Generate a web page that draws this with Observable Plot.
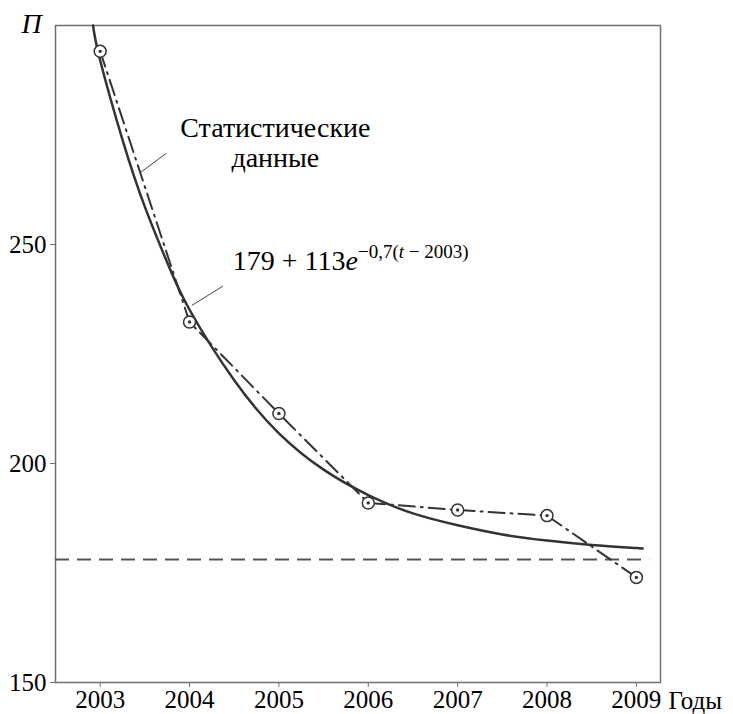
<!DOCTYPE html>
<html><head><meta charset="utf-8">
<script src="https://cdn.jsdelivr.net/npm/d3@7"></script>
<script src="https://cdn.jsdelivr.net/npm/@observablehq/plot@0.6"></script>
<style>body{margin:0}</style>
</head><body><div id="chart"></div>
<script>
// Statistical data
const years = [2003, 2004, 2005, 2006, 2007, 2008, 2009];
const statValues = [294.1, 232.3, 211.4, 191.0, 189.4, 188.1, 174.0];
// Fitted curve, points
const fitT = [2002.92, 2003, 2003.25, 2003.5, 2003.75, 2004, 2004.5, 2005, 2005.5, 2006, 2006.5, 2007, 2007.5, 2008, 2008.5, 2009, 2009.05];
const fitValues = [300, 292, 273.9, 258.6, 245.9, 235.1, 219, 206.9, 198.6, 192.8, 188.6, 185.9, 183.8, 182.4, 181.4, 180.7, 180.6];
// Asymptote
const asymptote = 178.1;
// Axes
const xTicks = [2003, 2004, 2005, 2006, 2007, 2008, 2009];
const yTicks = [150, 200, 250];
const xDomain = [2002.5, 2009.27];
const yDomain = [150, 300];
const yLabel = "П";
const xLabel = "Годы";
// Annotations
const statLabel = "Статистические\nданные";
const statLabelAt = [2004.96, 273.4];
const statLeader = [2003.448, 266.4, 2003.739, 270.8];
const formulaMain = "179 + 113";
const formulaE = "e";
const formulaSup1 = "−0,7(";
const formulaSupT = "t";
const formulaSup2 = " − 2003)";
const formulaAt = [2004.49, 244.1];
const formulaLeader = [2004.026, 236.1, 2004.374, 240.5];

const stat = years.map((t, i) => ({t, v: statValues[i]}));
const fit = fitT.map((t, i) => ({t, v: fitValues[i]}));
const leaders = [statLeader, formulaLeader].map(([x1, y1, x2, y2]) => ({x1, y1, x2, y2}));

const INK = "#333";
const GRAY = "#707070";

const plot = Plot.plot({
  width: 733, height: 714,
  marginLeft: 55, marginRight: 73, marginTop: 25, marginBottom: 32,
  style: {fontSize: "25px", fontFamily: "Liberation Serif"},
  x: {domain: xDomain, axis: null},
  y: {domain: yDomain, axis: null},
  marks: [
    Plot.frame({stroke: GRAY, strokeWidth: 1.5}),
    Plot.axisX({ticks: xTicks, tickFormat: d => String(d), tickSize: 5, tickPadding: 3, stroke: GRAY, label: null}),
    Plot.axisY({ticks: yTicks, tickFormat: d => String(d), tickSize: 5, tickPadding: 4, stroke: GRAY, label: null}),
    Plot.ruleY([asymptote], {x1: xDomain[0], x2: 2009.15, stroke: "#555", strokeWidth: 2, strokeDasharray: "14,8"}),
    Plot.line(fit, {x: "t", y: "v", curve: "natural", stroke: INK, strokeWidth: 2.5}),
    Plot.line(stat, {x: "t", y: "v", stroke: INK, strokeWidth: 2, strokeDasharray: "16,6,2,6"}),
    Plot.dot(stat, {x: "t", y: "v", r: 6, fill: "white", stroke: INK, strokeWidth: 1.5}),
    Plot.dot(stat, {x: "t", y: "v", r: 1.7, fill: INK}),
    Plot.link(leaders, {x1: "x1", y1: "y1", x2: "x2", y2: "y2", stroke: "#444", strokeWidth: 1}),
    Plot.text([statLabel], {x: statLabelAt[0], y: statLabelAt[1], text: d => d, textAnchor: "middle", lineAnchor: "middle", lineHeight: 1.08, fontSize: "28px"}),
    Plot.text([yLabel], {frameAnchor: "top-left", text: d => d, dx: -24, dy: -1, textAnchor: "middle", lineAnchor: "middle", fontSize: "28px", fontStyle: "italic"}),
    Plot.text([xLabel], {frameAnchor: "bottom-right", text: d => d, dx: 8, dy: 18, textAnchor: "start", lineAnchor: "middle"})
  ]
});

// formula annotation with superscript (real text with tspans)
const sx = plot.scale("x"), sy = plot.scale("y");
const ft = d3.select(plot).append("text")
  .attr("x", sx.apply(formulaAt[0]))
  .attr("y", sy.apply(formulaAt[1]))
  .attr("text-anchor", "start")
  .attr("style", "font-family:'Liberation Serif';font-size:28px");
ft.append("tspan").text(formulaMain);
ft.append("tspan").attr("style", "font-style:italic").text(formulaE);
ft.append("tspan").attr("dy", -12).attr("style", "font-size:19px").text(formulaSup1);
ft.append("tspan").attr("style", "font-size:19px;font-style:italic").text(formulaSupT);
ft.append("tspan").attr("style", "font-size:19px").text(formulaSup2);

document.getElementById("chart").appendChild(plot);
</script>
</body></html>
